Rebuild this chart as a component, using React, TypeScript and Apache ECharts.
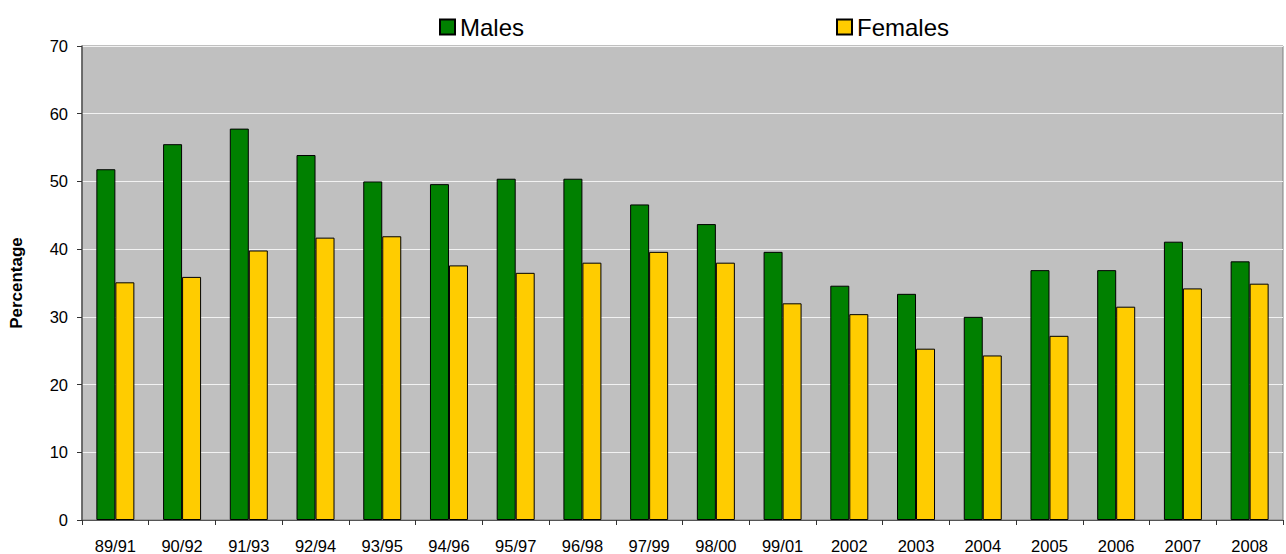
import React, { useEffect, useRef } from "react";
import * as echarts from "echarts";

const categories = ["89/91","90/92","91/93","92/94","93/95","94/96","95/97","96/98","97/99","98/00","99/01","2002","2003","2004","2005","2006","2007","2008"];
const males = [51.8,55.5,57.8,53.9,50.0,49.6,50.4,50.4,46.6,43.7,39.6,34.6,33.4,30.0,36.9,36.9,41.1,38.2];
const females = [35.1,35.9,39.8,41.7,41.9,37.6,36.5,38.0,39.6,38.0,32.0,30.4,25.3,24.3,27.2,31.5,34.2,34.9];
const yTicks = { min: 0, max: 70, interval: 10 };

const FONT = "'Liberation Sans', Arial, sans-serif";

export default function App() {
  const ref = useRef<HTMLDivElement>(null);
  useEffect(() => {
    const chart = echarts.init(ref.current!, null, { renderer: "svg" });
    chart.setOption({
      animation: false,
      backgroundColor: "#ffffff",
      textStyle: { fontFamily: FONT },
      legend: [
        {
          data: ["Males"], left: 434, top: 10, itemWidth: 15, itemHeight: 15,
          icon: "rect",
          textStyle: { fontSize: 24, color: "#000", fontFamily: FONT },
        },
        {
          data: ["Females"], left: 831, top: 10, itemWidth: 15, itemHeight: 15,
          icon: "rect",
          textStyle: { fontSize: 24, color: "#000", fontFamily: FONT },
        },
      ],
      grid: {
        left: 81, right: 3, top: 46, bottom: 34,
        show: true, backgroundColor: "#C0C0C0", borderColor: "#808080", borderWidth: 1,
      },
      xAxis: {
        type: "category",
        data: categories,
        axisLine: { lineStyle: { color: "#555", width: 1 } },
        axisTick: { show: true, length: 5, alignWithLabel: false, lineStyle: { color: "#333" } },
        axisLabel: { fontSize: 16.5, color: "#000", margin: 17, fontFamily: FONT, interval: 0 },
      },
      yAxis: {
        type: "value",
        min: yTicks.min, max: yTicks.max, interval: yTicks.interval,
        name: "Percentage",
        nameLocation: "middle",
        nameGap: 57,
        nameRotate: 90,
        nameTextStyle: { fontSize: 17, fontWeight: "bold", color: "#000", fontFamily: FONT },
        axisLine: { show: true, lineStyle: { color: "#555", width: 1.5 } },
        axisTick: { show: true, length: 5, lineStyle: { color: "#333" } },
        axisLabel: { fontSize: 16.5, color: "#000", margin: 14, fontFamily: FONT },
        splitLine: { lineStyle: { color: "#F2F2F2", width: 1 } },
      },
      series: [
        {
          name: "Males", type: "bar", data: males, barWidth: 19, barGap: "0%",
          itemStyle: { color: "#008000", borderColor: "#000", borderWidth: 1 },
        },
        {
          name: "Females", type: "bar", data: females, barWidth: 19, barGap: "0%",
          itemStyle: { color: "#FFCC00", borderColor: "#000", borderWidth: 1 },
        },
      ],
    });
    return () => chart.dispose();
  }, []);
  return (
    <div
      ref={ref}
      style={{ position: "absolute", left: 0, top: 0, width: 1286, height: 554 }}
    />
  );
}
